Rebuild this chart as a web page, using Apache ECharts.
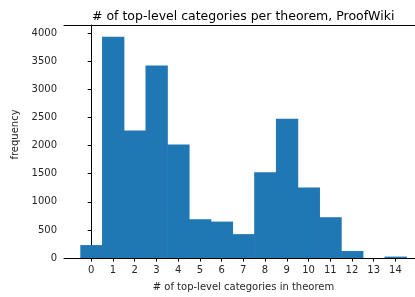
<!DOCTYPE html>
<html lang="en">
<head>
    <meta charset="UTF-8">
    <title>top-level categories per theorem</title>
    <script src="https://cdn.jsdelivr.net/npm/echarts@6/dist/echarts.min.js"></script>
    <style>
        html, body { margin: 0; padding: 0; background: #fff; }
        #main { width: 415px; height: 297px; }
    </style>
</head>
<body>
    <div id="main"></div>
    <script type="text/javascript">
        const chart = echarts.init(document.getElementById('main'));

        // histogram bins: number of top-level categories (bin centres)
        const categories = [0, 1, 2, 3, 4, 5, 6, 7, 8, 9, 10, 11, 12, 13, 14];
        // frequency of each bin
        const frequency = [230, 3940, 2270, 3426, 2018, 690, 648, 425, 1527, 2478, 1257, 726, 124, 0, 25];
        const yTicks = [0, 500, 1000, 1500, 2000, 2500, 3000, 3500, 4000];

        const FONT = 'DejaVu Sans';
        const TEXT = '#262626';
        const BAR = '#1f77b4';

        const bins = categories.map((c, i) => [c - 0.5, c + 0.5, frequency[i]]);

        const renderBin = (params, api) => {
            if (!api.value(2)) return null;
            const p0 = api.coord([api.value(0), api.value(2)]);
            const p1 = api.coord([api.value(1), 0]);
            // widen a hair so neighbouring bins don't show seams
            return {
                type: 'rect',
                shape: { x: p0[0], y: p0[1], width: p1[0] - p0[0] + 0.6, height: p1[1] - p0[1] },
                style: { fill: BAR }
            };
        };

        chart.setOption({
            animation: false,
            textStyle: { fontFamily: FONT },
            title: {
                text: '# of top-level categories per theorem, ProofWiki',
                left: 87,
                top: 5,
                textStyle: { fontFamily: FONT, fontSize: 12.5, fontWeight: 'normal', color: '#000' }
            },
            grid: { left: 64, right: 0, top: 25, bottom: 38, containLabel: false },
            xAxis: [{
                type: 'value',
                min: -1.25,
                max: 14.9,
                name: '# of top-level categories in theorem',
                nameLocation: 'middle',
                nameGap: 24,
                nameTextStyle: { fontFamily: FONT, fontSize: 10, color: TEXT, padding: [0, 0, 0, 8] },
                axisLine: { show: true, onZero: false, lineStyle: { color: '#000', width: 1 } },
                axisTick: { show: true, length: 3.5, lineStyle: { color: '#000' }, customValues: categories },
                axisLabel: { fontFamily: FONT, fontSize: 10, color: TEXT, margin: 7, customValues: categories },
                splitLine: { show: false }
            }, {
                type: 'value',
                position: 'top',
                min: -1.25,
                max: 14.9,
                axisLine: { show: true, onZero: false, lineStyle: { color: '#000', width: 1 } },
                axisTick: { show: false },
                axisLabel: { show: false },
                splitLine: { show: false }
            }],
            yAxis: {
                type: 'value',
                min: 0,
                max: 4147,
                name: 'frequency',
                nameLocation: 'middle',
                nameGap: 40,
                nameTextStyle: { fontFamily: FONT, fontSize: 10, color: TEXT, padding: [0, 0, 0, 14] },
                axisLine: { show: true, lineStyle: { color: '#000', width: 1 } },
                axisTick: { show: true, length: 3.5, lineStyle: { color: '#000' }, customValues: yTicks },
                axisLabel: {
                    fontFamily: FONT, fontSize: 10, color: TEXT, margin: 7, customValues: yTicks,
                    formatter: v => String(v)
                },
                splitLine: { show: false }
            },
            series: [{
                type: 'custom',
                renderItem: renderBin,
                encode: { x: [0, 1], y: 2 },
                data: bins,
                clip: true
            }]
        });
    </script>
</body>
</html>
